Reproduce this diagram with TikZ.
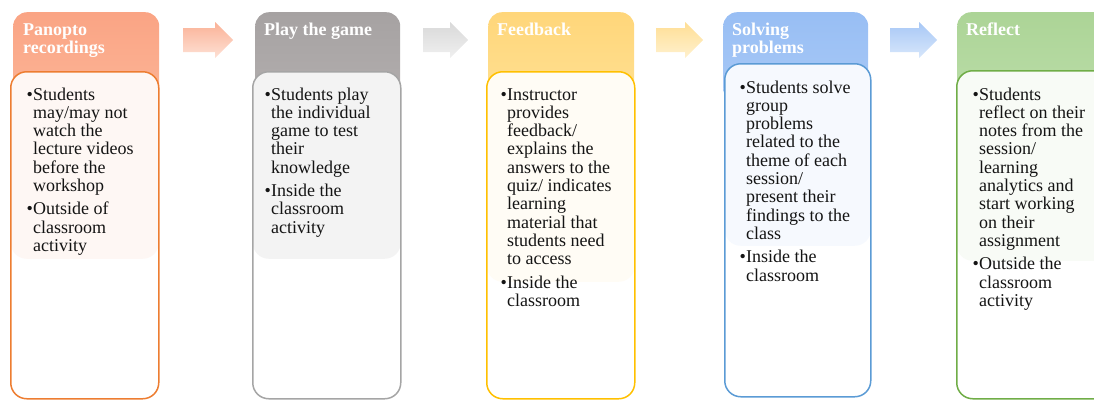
\documentclass[tikz,border=0pt]{standalone}
\usepackage{fontspec}
\setmainfont{Liberation Serif}
\newlength\bw
\setlength\bw{6.5pt}
\newcommand\bul{\par\noindent\hangindent=\bw\hangafter=1\makebox[\bw][l]{•}}
\newcommand\btext[1]{\parbox[t]{140pt}{\fontsize{18}{18.3}\selectfont\setlength\parskip{5pt}#1}}
\newcommand\htext[1]{\parbox[t]{140pt}{\fontsize{18}{18}\selectfont\bfseries #1}}
\definecolor{txt}{RGB}{20,20,20}
\definecolor{o1}{RGB}{250,164,132}\definecolor{o2}{RGB}{252,180,150}\definecolor{ob}{RGB}{237,125,49}\definecolor{ot}{RGB}{254,247,244}
\definecolor{g1}{RGB}{166,162,162}\definecolor{g2}{RGB}{178,174,174}\definecolor{gb}{RGB}{165,165,165}\definecolor{gt}{RGB}{243,243,243}
\definecolor{y1}{RGB}{255,214,122}\definecolor{y2}{RGB}{255,224,146}\definecolor{yb}{RGB}{255,192,0}\definecolor{yt}{RGB}{255,252,245}
\definecolor{b1}{RGB}{152,190,244}\definecolor{b2}{RGB}{168,201,246}\definecolor{bb}{RGB}{91,155,213}\definecolor{bt}{RGB}{246,249,254}
\definecolor{n1}{RGB}{172,212,150}\definecolor{n2}{RGB}{186,221,168}\definecolor{nb}{RGB}{112,173,71}\definecolor{nt}{RGB}{248,251,246}
\tikzset{
  hdr/.style={anchor=north west, inner sep=0, rounded corners=14pt, minimum height=90pt},
  body/.style={anchor=north west, inner sep=0, rounded corners=16pt, line width=1.5pt, fill=white},
  tint/.style 2 args={path picture={\fill[#1] (path picture bounding box.north west) rectangle ([yshift=-#2]path picture bounding box.north east);}},
  htxt/.style={anchor=base west, inner sep=0, text=white},
  btxt/.style={anchor=base west, inner sep=0, text=txt},
}
\newcommand\blockarrow[4]{%
  \shade[top color=#3, bottom color=#4] (#1,28) -- ({#1+#2-18},28) -- ({#1+#2-18},22) -- ({#1+#2},40) -- ({#1+#2-18},58) -- ({#1+#2-18},52) -- (#1,52) -- cycle;}
\begin{document}
\begin{tikzpicture}[x=1pt,y=-1pt]
\useasboundingbox (0,0) rectangle (1094,399);
\clip (0,0) rectangle (1094,399);
% column 1
\node[hdr, minimum width=146pt, top color=o1, bottom color=o2] (h1) at (13,12) {};
\node[body, draw=ob, minimum width=148pt, minimum height=327pt, tint={ot}{187pt}] (bd1) at (10,71) {};
\node[htxt] (ht1) at (23,35) {\htext{Panopto\\recordings}};
\node[btxt] (tx1) at (26.5,100) {\btext{\bul Students\\may/may not\\watch the\\lecture videos\\before the\\workshop\bul Outside of\\classroom\\activity}};
% column 2
\node[hdr, minimum width=145pt, top color=g1, bottom color=g2] (h2) at (255,12) {};
\node[body, draw=gb, minimum width=148pt, minimum height=327pt, tint={gt}{187pt}] (bd2) at (252,71) {};
\node[htxt] (ht2) at (264,35) {\htext{Play the game}};
\node[btxt] (tx2) at (264.5,100) {\btext{\bul Students play\\the individual\\game to test\\their\\knowledge\bul Inside the\\classroom\\activity}};
% column 3
\node[hdr, minimum width=146pt, top color=y1, bottom color=y2] (h3) at (488,12) {};
\node[body, draw=yb, minimum width=148pt, minimum height=327pt, tint={yt}{210pt}] (bd3) at (486,71) {};
\node[htxt] (ht3) at (497,35) {\htext{Feedback}};
\node[btxt] (tx3) at (500.5,100) {\btext{\bul Instructor\\provides\\feedback/\\explains the\\answers to the\\quiz/ indicates\\learning\\material that\\students need\\to access\bul Inside the\\classroom}};
% column 4
\node[hdr, minimum width=145pt, top color=b1, bottom color=b2] (h4) at (723,12) {};
\node[body, draw=bb, minimum width=146pt, minimum height=333pt, tint={bt}{182pt}] (bd4) at (724,63) {};
\node[htxt] (ht4) at (732,35) {\htext{Solving\\problems}};
\node[btxt] (tx4) at (739.5,93) {\btext{\bul Students solve\\group\\problems\\related to the\\theme of each\\session/\\present their\\findings to the\\class\bul Inside the\\classroom}};
% column 5
\node[hdr, minimum width=160pt, top color=n1, bottom color=n2] (h5) at (957,12) {};
\node[body, draw=nb, minimum width=160pt, minimum height=328pt, tint={nt}{190pt}] (bd5) at (956,70) {};
\node[htxt] (ht5) at (966,35) {\htext{Reflect}};
\node[btxt] (tx5) at (972.5,100) {\btext{\bul Students\\reflect on their\\notes from the\\session/\\learning\\analytics and\\start working\\on their\\assignment\bul Outside the\\classroom\\activity}};
% arrows
\blockarrow{183}{50}{o1!85!white}{o2!40!white}
\blockarrow{423}{45}{gray!30}{gray!12}
\blockarrow{656}{47}{y1!80!white}{y2!45!white}
\blockarrow{890}{47}{b1!85!white}{b2!45!white}
\end{tikzpicture}
\end{document}
